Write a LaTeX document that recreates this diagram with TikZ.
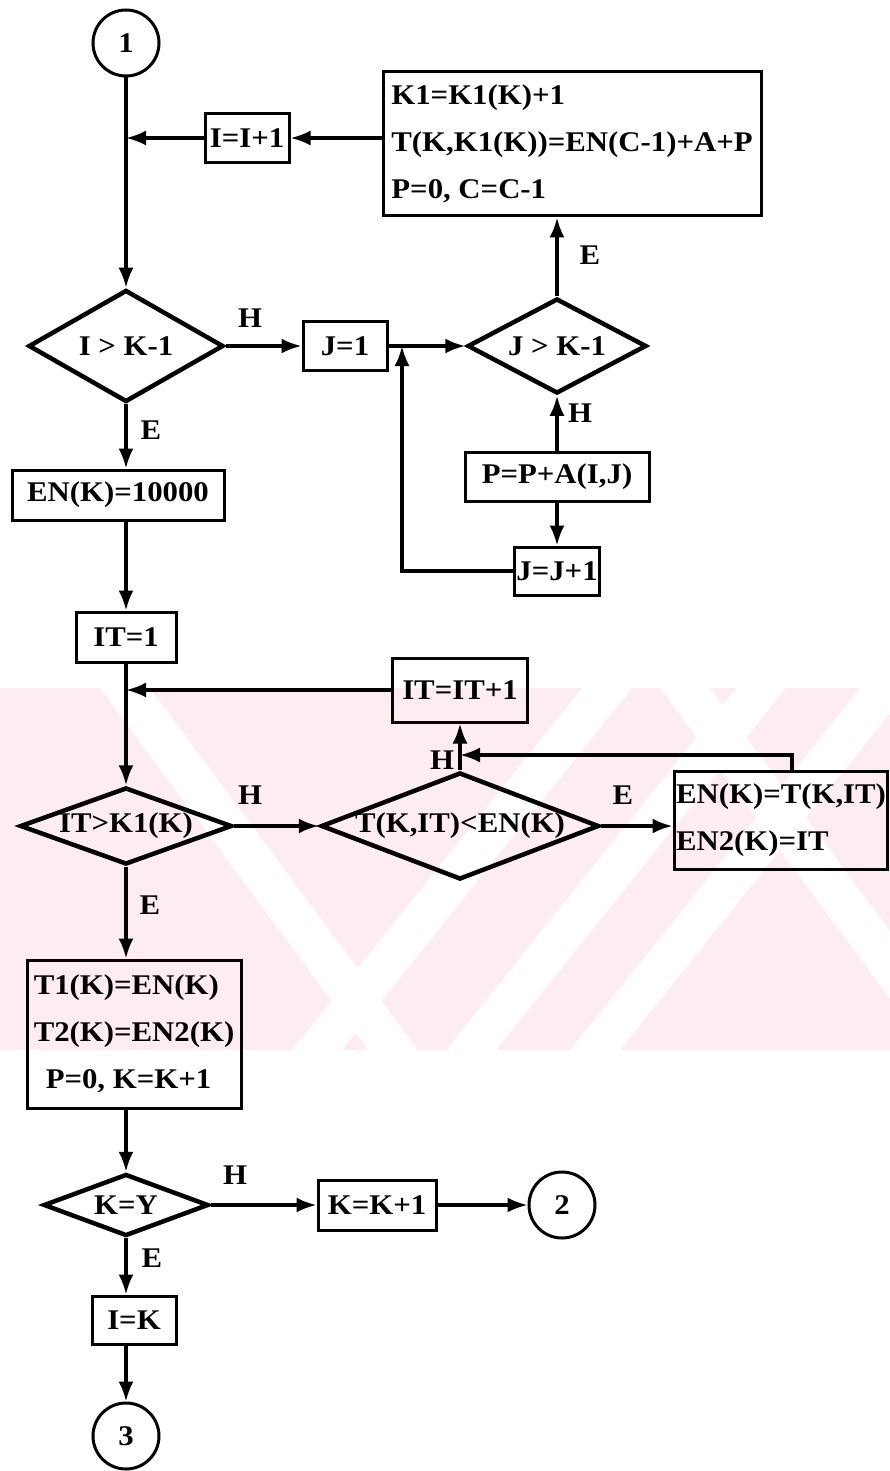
\documentclass[tikz,border=0pt]{standalone}
\usepackage{fontspec}
\setmainfont{Liberation Serif}[FakeStretch=1.08]
\usetikzlibrary{shapes.geometric,arrows.meta}
\definecolor{rosa}{RGB}{253,237,240}
\begin{document}
\begin{tikzpicture}[
  x=1pt, y=-1pt,
  every node/.style={font=\fontsize{28.5pt}{47pt}\selectfont\bfseries},
  caja/.style={rectangle, draw=black, line width=3pt, inner sep=2pt, align=left},
  rombo/.style={diamond, draw=black, line width=4.5pt, inner sep=0pt},
  conector/.style={circle, draw=black, line width=3pt, minimum size=66pt, inner sep=0pt},
  texto/.style={inner sep=0pt},
  linea/.style={line width=3.2pt},
  flecha/.style={line width=3.2pt, -{Latex[length=20pt,width=15pt]}}
]
  \useasboundingbox (0,0) rectangle (890,1471);

  % Marca de agua de fondo
  \fill[rosa] (0,688) rectangle (890,1050);
  \begin{scope}
    \clip (0,688) rectangle (890,1050);
    \foreach \xa in {100,660}
      \fill[white] (\xa,688) -- (\xa+50,688) -- (\xa+318,1050) -- (\xa+268,1050) -- cycle;
    \foreach \xb in {582,736,860}
      \fill[white] (\xb,688) -- (\xb+50,688) -- (\xb-240,1050) -- (\xb-290,1050) -- cycle;
  \end{scope}

  % Bucle sobre I
  \node[conector] (c1) at (126,43) {1};
  \coordinate (j1) at (126,138);
  \node[caja, minimum width=84pt, minimum height=49pt] (incI) at (247,138) {I=I+1};
  \node[caja, minimum width=378pt, minimum height=144pt] (upd) at (572,144)
    {K1=K1(K)+1\\T(K,K1(K))=EN(C-1)+A+P\\P=0, C=C-1};
  \node[rombo, minimum width=195pt, minimum height=112pt] (dI) at (126,346) {};
  \node[texto] (dI-t) at (dI) {I > K-1};

  % Bucle sobre J
  \node[caja, minimum width=84pt, minimum height=49pt] (set1) at (345,346) {J=1};
  \coordinate (jJ) at (402,346);
  \node[rombo, minimum width=179pt, minimum height=95pt] (dJ) at (557,346) {};
  \node[texto] (dJ-t) at (dJ) {J > K-1};
  \node[caja, minimum width=184pt, minimum height=49pt] (addP) at (557,477) {P=P+A(I,J)};
  \node[caja, minimum width=84pt, minimum height=48pt] (incJ) at (557,571) {J=J+1};

  % Inicio de la busqueda del minimo
  \node[caja, minimum width=212pt, minimum height=50pt] (init) at (118,495) {EN(K)=10000};
  \node[caja, minimum width=100pt, minimum height=50pt] (it1) at (126,637) {IT=1};
  \coordinate (j2) at (126,690);
  \node[caja, minimum width=135pt, minimum height=64pt] (incIT) at (460,690) {IT=IT+1};
  \node[rombo, minimum width=212pt, minimum height=77pt] (dIT) at (126,826) {};
  \node[texto] (dIT-t) at (dIT) {IT>K1(K)};
  \node[rombo, minimum width=278pt, minimum height=107pt] (dT) at (460,826) {};
  \node[texto] (dT-t) at (dT) {T(K,IT)<EN(K)};
  \node[caja, minimum width=213pt, minimum height=98pt] (upd2) at (781,820)
    {EN(K)=T(K,IT)\\EN2(K)=IT};
  \coordinate (jT) at (460,755);

  % Cierre y salida
  \node[caja, minimum width=214pt, minimum height=148pt] (done) at (134,1034)
    {T1(K)=EN(K)\\T2(K)=EN2(K)\\\hspace*{12pt}P=0, K=K+1};
  \node[rombo, minimum width=165pt, minimum height=62pt] (dK) at (126,1205) {};
  \node[texto] (dK-t) at (dK) {K=Y};
  \node[caja, minimum width=118pt, minimum height=50pt] (incK) at (377,1205) {K=K+1};
  \node[conector] (c2) at (562,1205) {2};
  \node[caja, minimum width=84pt, minimum height=48pt] (setI) at (134,1320) {I=K};
  \node[conector] (c3) at (126,1436) {3};

  % Etiquetas de las ramas
  \node[texto] (lH1) at (250,318) {H};
  \node[texto] (lE1) at (151,430) {E};
  \node[texto] (lE2) at (590,255) {E};
  \node[texto] (lH2) at (580,413) {H};
  \node[texto] (lH3) at (250,795) {H};
  \node[texto] (lH4) at (442,760) {H};
  \node[texto] (lE3) at (623,795) {E};
  \node[texto] (lE4) at (150,905) {E};
  \node[texto] (lH5) at (235,1175) {H};
  \node[texto] (lE5) at (152,1258) {E};

  % Conexiones
  \draw[flecha] (c1) -- (dI);
  \draw[flecha] (upd.west |- incI) -- (incI);
  \draw[flecha] (incI) -- (j1);
  \draw[flecha] (dI) -- (set1);
  \draw[flecha] (set1) -- (dJ);
  \draw[flecha] (dJ) -- (dJ.north |- upd.south);
  \draw[flecha] (addP) -- (dJ);
  \draw[flecha] (addP) -- (incJ);
  \draw[flecha] (incJ.west) -| (jJ);
  \draw[flecha] (dI.south) -- (dI.south |- init.north);
  \draw[flecha] (init.south -| it1.north) -- (it1.north);
  \draw[flecha] (it1) -- (dIT);
  \draw[flecha] (incIT) -- (j2);
  \draw[flecha] (dIT) -- (dT);
  \draw[flecha] (dT) -- (incIT);
  \draw[flecha] (dT.east) -- (dT.east -| upd2.west);
  \draw[flecha] ([xshift=11pt]upd2.north) |- (jT);
  \draw[flecha] (dIT.south) -- (dIT.south |- done.north);
  \draw[flecha] (done.south -| dK) -- (dK);
  \draw[flecha] (dK) -- (incK);
  \draw[flecha] (incK) -- (c2);
  \draw[flecha] (dK.south) -- (dK.south |- setI.north);
  \draw[flecha] (setI.south -| c3) -- (c3);

\end{tikzpicture}
\end{document}
